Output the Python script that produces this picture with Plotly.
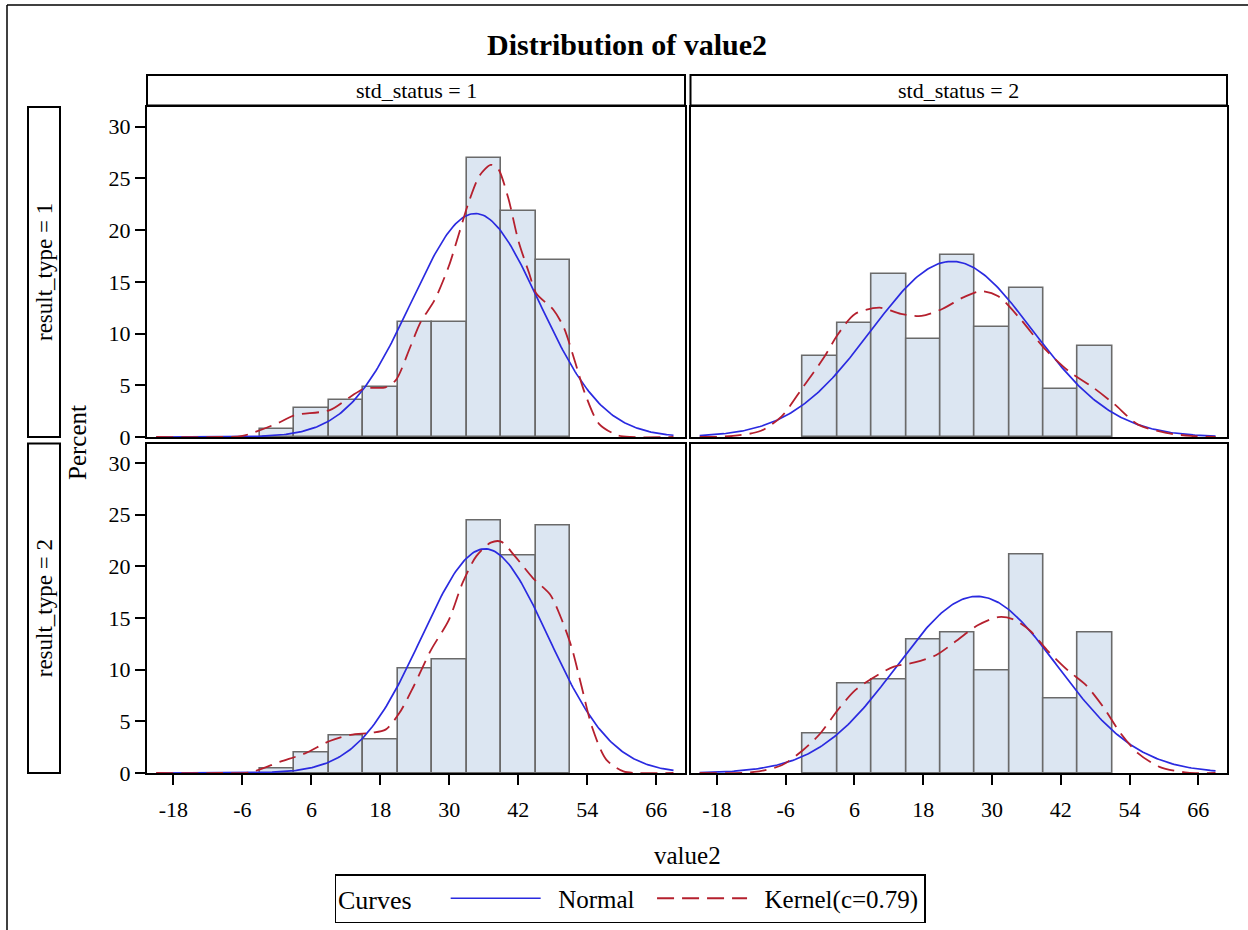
import plotly.graph_objects as go
import numpy as np

W, H = 1248, 930

# ---------------- data ----------------
bin_centers = [0, 6, 12, 18, 24, 30, 36, 42, 48]
bin_width = 6

# percents per panel (row = result_type, col = std_status)
pct_r1_s1 = [0.8, 2.8, 3.6, 4.8, 11.1, 11.1, 27.0, 21.8, 17.1]
pct_r1_s2 = [7.8, 11.0, 15.8, 9.5, 17.6, 10.6, 14.4, 4.6, 8.8]
pct_r2_s1 = [0.4, 2.0, 3.65, 3.25, 10.15, 11.0, 24.4, 21.1, 24.0]
pct_r2_s2 = [3.8, 8.7, 9.1, 12.9, 13.6, 9.9, 21.2, 7.2, 13.6]

# fitted normal parameters (mean, sd) per panel
normal_mean = {"r1s1": 34.5, "r1s2": 23.0, "r2s1": 36.2, "r2s2": 27.4}
normal_sd = {"r1s1": 11.08, "r1s2": 14.1, "r2s1": 11.03, "r2s2": 14.0}
normal_x_start, normal_x_end = -21, 69

# kernel density curves
kern_r1s1_x = [-21, -10, -6, 0.6, 3, 9.2, 12.8, 15.3, 18.9, 20.7, 23.2, 25, 27.4, 29.9, 31.7,
               33.5, 35.3, 37.2, 38.4, 40.2, 42, 43.9, 45.1, 48.1, 49.9, 51.8, 53.6, 56,
               59.1, 61.5, 69]
kern_r1s1_y = [0, 0, 0.1, 1.45, 2.1, 2.6, 3.9, 4.7, 4.8, 5.5, 8.7, 11.1, 13.2, 16.5, 19.7,
               22.9, 25.3, 26.3, 26.0, 23.2, 19.0, 15.8, 13.9, 12.3, 10.6, 7.4, 4.2, 1.3,
               0.2, 0, 0]

kern_r1s2_x = [-21, -15.2, -10.3, -6.7, -3, 0.7, 3.1, 6.1, 10.4, 14.1, 17.7, 21.4, 25, 28.1,
               31.1, 34.8, 39.1, 43.3, 47.6, 51.3, 55.5, 60.4, 64.7, 69]
kern_r1s2_y = [0, 0.1, 0.6, 2.0, 4.8, 7.7, 9.9, 11.9, 12.5, 11.9, 11.7, 12.4, 13.5, 14.1,
               13.6, 11.5, 8.6, 6.4, 4.8, 3.2, 1.2, 0.4, 0.1, 0]

kern_r2s1_x = [-21, -10, -4.8, 0.6, 4.9, 9.2, 12.8, 16.5, 18.9, 21.3, 23.8, 26.8, 29.9, 32.3,
               34.7, 37.2, 39, 41.4, 44.5, 47.5, 49.3, 51.2, 53, 54.8, 57.3, 60.3, 62.7, 69]
kern_r2s1_y = [0, 0, 0.05, 1.1, 1.9, 3.1, 3.7, 3.9, 4.2, 5.8, 8.4, 11.9, 14.8, 18.4,
               21.0, 22.3, 22.4, 21.0, 18.9, 17.3, 15.2, 12.3, 8.4, 4.5, 1.3, 0.15, 0, 0]

kern_r2s2_x = [-21, -11.5, -6.7, -3, 0, 3.1, 6.1, 9.2, 12.9, 16.5, 20.2, 23.8, 27.5, 31.1,
               33.6, 36.6, 39.6, 43.3, 46.4, 49.4, 52.5, 55.5, 59.2, 64.1, 69]
kern_r2s2_y = [0, 0.1, 0.75, 2.2, 3.8, 6.1, 8.0, 9.2, 10.3, 10.7, 11.4, 12.8, 14.3, 15.1,
               14.9, 13.8, 11.9, 9.9, 8.5, 6.4, 3.8, 1.9, 0.6, 0.03, 0]

x_tick_vals = [-18, -6, 6, 18, 30, 42, 54, 66]
x_tick_text = ["-18", "-6", "6", "18", "30", "42", "54", "66"]
y_tick_vals = [0, 5, 10, 15, 20, 25, 30]
col_labels = ["std_status = 1", "std_status = 2"]
row_labels = ["result_type = 1", "result_type = 2"]
legend_normal = "\u00a0\u00a0Normal\u00a0\u00a0"
legend_kernel = "\u00a0\u00a0Kernel(c=0.79)"

# ---------------- styles ----------------
FONT = "Liberation Serif"
BAR_FILL = "#dce6f2"
BAR_LINE = "#6a6a6a"
BLUE = "#2a2ae0"
RED = "#b5202e"

def px(x):
    return x / W

def py(y):
    return 1 - y / H

panels = [
    ("r1s1", pct_r1_s1, kern_r1s1_x, kern_r1s1_y, 1, 1),
    ("r1s2", pct_r1_s2, kern_r1s2_x, kern_r1s2_y, 1, 2),
    ("r2s1", pct_r2_s1, kern_r2s1_x, kern_r2s1_y, 2, 1),
    ("r2s2", pct_r2_s2, kern_r2s2_x, kern_r2s2_y, 2, 2),
]

xdom = {1: [px(147), px(685)], 2: [px(690.5), px(1227)]}
ydom = {1: [py(437), py(107)], 2: [py(773), py(443.5)]}

fig = go.Figure()
layout = {}
for i, (key, pct, kx, ky, r, c) in enumerate(panels):
    n = i + 1
    xa = "x" if n == 1 else f"x{n}"
    ya = "y" if n == 1 else f"y{n}"
    fig.add_trace(go.Bar(
        x=bin_centers, y=pct, width=bin_width, xaxis=xa, yaxis=ya,
        marker=dict(color=BAR_FILL, line=dict(color=BAR_LINE, width=1.6)),
        showlegend=False, hoverinfo="x+y"))
    mu, sd = normal_mean[key], normal_sd[key]
    nx = np.linspace(normal_x_start, normal_x_end, 300)
    ny = 100 * bin_width / (sd * np.sqrt(2 * np.pi)) * np.exp(-0.5 * ((nx - mu) / sd) ** 2)
    fig.add_trace(go.Scatter(
        x=nx, y=ny, mode="lines", xaxis=xa, yaxis=ya, name=legend_normal,
        line=dict(color=BLUE, width=1.7), showlegend=(n == 1), legendrank=1))
    fig.add_trace(go.Scatter(
        x=kx, y=ky, mode="lines", xaxis=xa, yaxis=ya, name=legend_kernel,
        line=dict(color=RED, width=1.8, dash="17px,8px", shape="spline", smoothing=0.8),
        showlegend=(n == 1), legendrank=2))

    xname = "xaxis" if n == 1 else f"xaxis{n}"
    yname = "yaxis" if n == 1 else f"yaxis{n}"
    layout[xname] = dict(
        domain=xdom[c], anchor=ya, range=[-22.6, 71.0],
        tickvals=x_tick_vals, ticktext=x_tick_text, showticklabels=(r == 2),
        ticks="outside" if r == 2 else "", ticklen=10, tickwidth=1.5, tickcolor="black",
        ticklabelstandoff=6,
        showline=True, linecolor="black", linewidth=2, mirror=True,
        showgrid=False, zeroline=False,
        tickfont=dict(family=FONT, size=22, color="black"))
    layout[yname] = dict(
        domain=ydom[r], anchor=xa, range=[0, 31.9],
        tickvals=y_tick_vals, showticklabels=(c == 1),
        ticks="outside" if c == 1 else "", ticklen=10, tickwidth=1.5, tickcolor="black",
        showline=True, linecolor="black", linewidth=2, mirror=True,
        showgrid=False, zeroline=False,
        tickfont=dict(family=FONT, size=22, color="black"))

shapes = []
annotations = []
# column strips
for c, lab in zip([1, 2], col_labels):
    x0, x1 = xdom[c]
    shapes.append(dict(type="rect", xref="paper", yref="paper", x0=x0, x1=x1,
                       y0=py(105.5), y1=py(75), line=dict(color="black", width=2)))
    annotations.append(dict(text=lab, xref="paper", yref="paper", x=(x0 + x1) / 2,
                            y=py(90.5), showarrow=False, xanchor="center", yanchor="middle",
                            font=dict(family=FONT, size=22, color="black")))
# row strips
for r, lab in zip([1, 2], row_labels):
    y0, y1 = ydom[r]
    shapes.append(dict(type="rect", xref="paper", yref="paper", x0=px(28), x1=px(60),
                       y0=y0, y1=y1, line=dict(color="black", width=2)))
    annotations.append(dict(text=lab, xref="paper", yref="paper", x=px(44),
                            y=(y0 + y1) / 2, showarrow=False, textangle=-90,
                            xanchor="center", yanchor="middle",
                            font=dict(family=FONT, size=23, color="black")))
# outer border (top/left visible)
shapes.append(dict(type="line", xref="paper", yref="paper", x0=px(7), x1=1.0,
                   y0=py(5), y1=py(5), line=dict(color="black", width=1.5)))
shapes.append(dict(type="line", xref="paper", yref="paper", x0=px(7), x1=px(7),
                   y0=py(5), y1=0.0, line=dict(color="black", width=1.5)))

annotations.append(dict(text="<b>Distribution of value2</b>", xref="paper", yref="paper",
                        x=px(627), y=py(45), showarrow=False, xanchor="center",
                        yanchor="middle", font=dict(family=FONT, size=30, color="black")))
annotations.append(dict(text="Percent", xref="paper", yref="paper", x=px(77), y=py(443),
                        showarrow=False, textangle=-90, xanchor="center", yanchor="middle",
                        font=dict(family=FONT, size=25, color="black")))
annotations.append(dict(text="value2", xref="paper", yref="paper", x=px(687), y=py(855),
                        showarrow=False, xanchor="center", yanchor="middle",
                        font=dict(family=FONT, size=25, color="black")))

fig.update_layout(
    width=W, height=H,
    margin=dict(l=0, r=0, t=0, b=0, autoexpand=False),
    paper_bgcolor="white", plot_bgcolor="white",
    font=dict(family=FONT, color="black"),
    barmode="overlay", bargap=0,
    shapes=shapes, annotations=annotations,
    legend=dict(orientation="h", x=px(630), xanchor="center", y=py(874), yanchor="top",
                bordercolor="black", borderwidth=1.5, bgcolor="white",
                title=dict(text="Curves    ", font=dict(family=FONT, size=26, color="black")),
                font=dict(family=FONT, size=25, color="black"),
                itemwidth=90, traceorder="normal"),
    **layout,
)

post = (
    "document.documentElement.style.margin='0';"
    "document.documentElement.style.overflow='hidden';"
    "document.body.style.margin='0';document.body.style.padding='0';"
    "document.body.style.overflow='hidden';"
    "var gd=document.getElementById('{plot_id}');"
    "gd.parentElement.style.height='930px';gd.parentElement.style.overflow='hidden';"
)
fig.write_html("out.html", post_script=post, config={"displayModeBar": False})
